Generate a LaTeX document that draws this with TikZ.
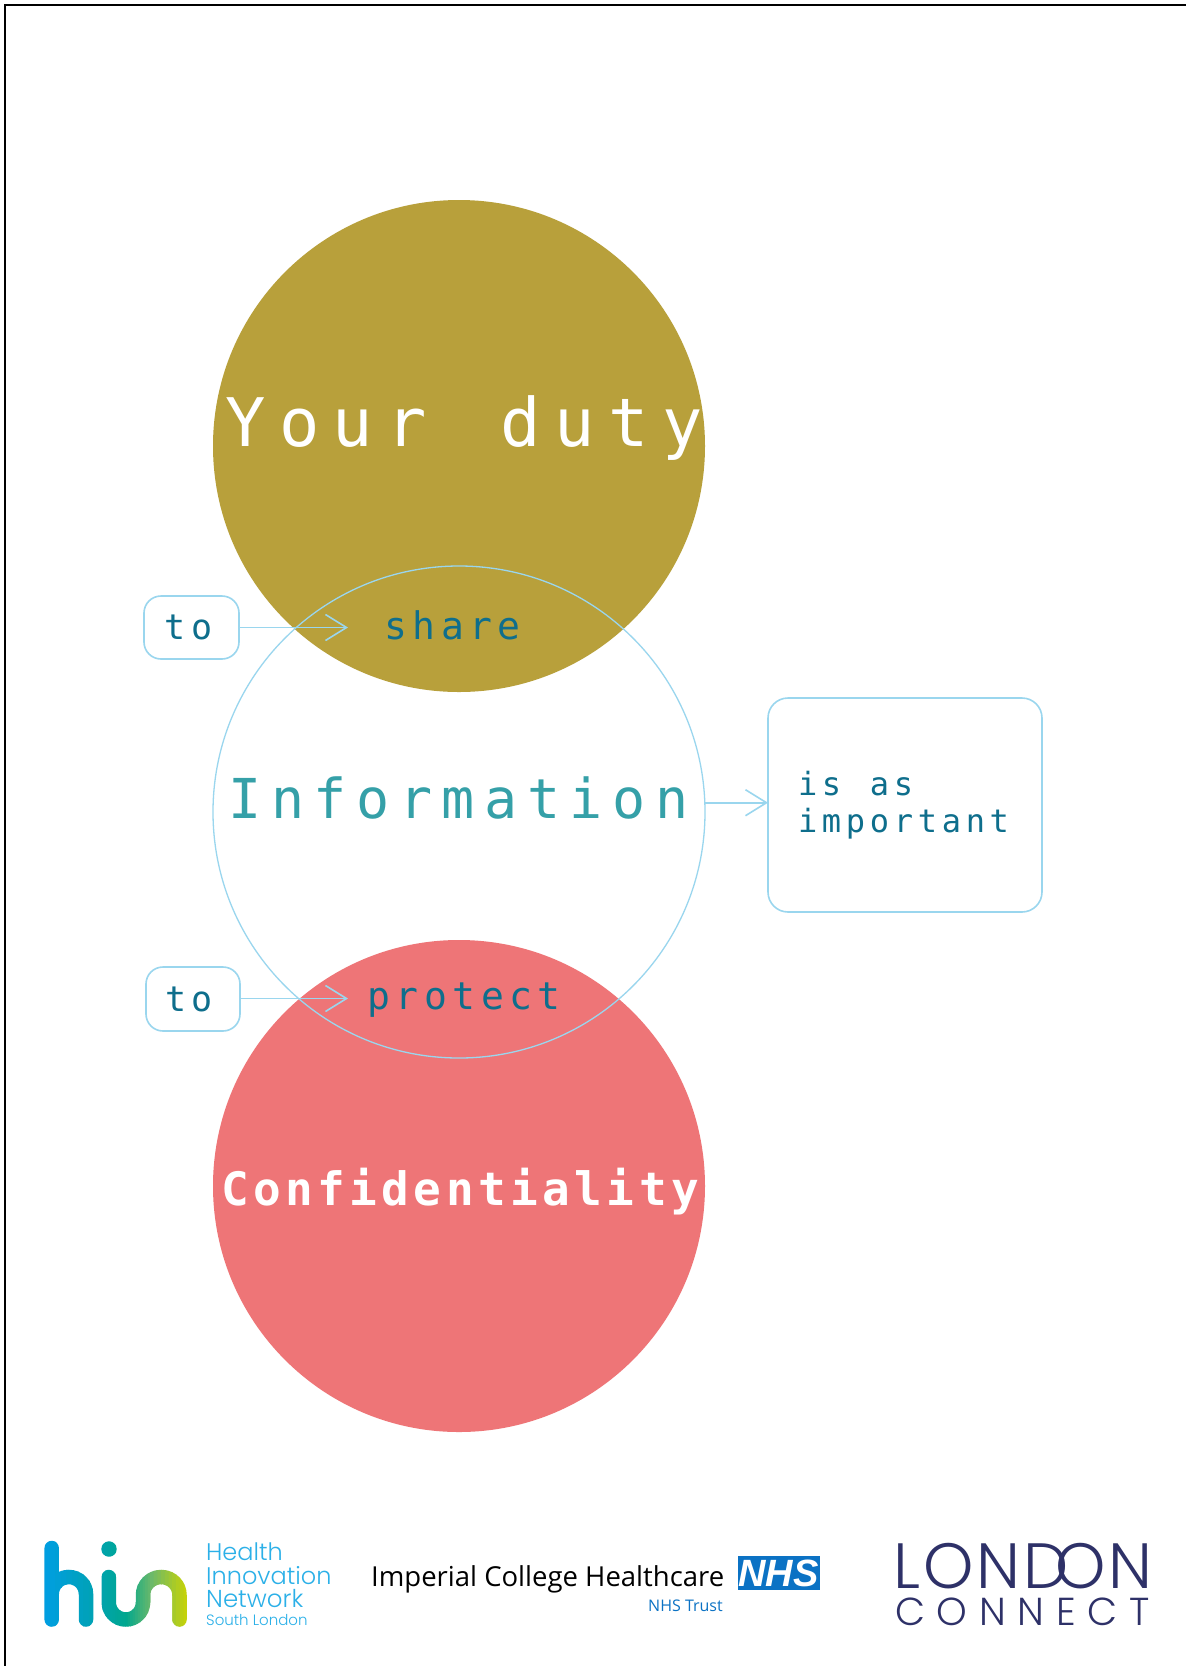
\documentclass[tikz,border=0pt]{standalone}
\usepackage{fontspec}
\usetikzlibrary{arrows.meta,shapes.geometric}
\newfontfamily\monoDuty[LetterSpace=20]{DejaVu Sans Mono}
\newfontfamily\monoInfo[LetterSpace=17.4]{DejaVu Sans Mono}
\newfontfamily\monoConf[LetterSpace=9.7]{DejaVu Sans Mono Bold}
\newfontfamily\monoSmall[LetterSpace=14.7]{DejaVu Sans Mono}
\newfontfamily\opn{Open Sans}
\newfontfamily\arialbi{Liberation Sans}
\newfontfamily\popl{Poppins Light}
\newfontfamily\popA[LetterSpace=4.9]{Poppins Light}
\newfontfamily\popS[LetterSpace=30]{Poppins Light}
\newcommand{\fsz}[1]{\fontsize{#1}{#1}\selectfont}
\definecolor{gold}{HTML}{B8A03B}
\definecolor{coral}{HTML}{EE7577}
\definecolor{linkblue}{HTML}{9AD6EE}
\definecolor{inktext}{HTML}{0E6E8C}
\definecolor{infotext}{HTML}{35A0A8}
\definecolor{hintext}{HTML}{2BB0E8}
\definecolor{nhsblue}{HTML}{0B72C4}
\definecolor{lcnavy}{HTML}{2E3168}
\definecolor{g1}{HTML}{009EE0}
\definecolor{g2}{HTML}{00A3AD}
\definecolor{g3}{HTML}{00A78E}
\definecolor{g4}{HTML}{6CB96A}
\definecolor{g5}{HTML}{CDD500}
\tikzset{
  disc/.style={circle,minimum size=492pt,inner sep=0pt,outer sep=0pt},
  link/.style={draw=linkblue,line width=1.6pt},
  linkbox/.style={draw=linkblue,line width=1.6pt,rounded corners=17pt,inner sep=0pt,outer sep=0pt,text=inktext},
  flow/.style={link,-{Straight Barb[length=21pt,width=26pt,line width=1.6pt]}},
  small/.style={inner sep=0pt,text=inktext,font=\monoSmall\fsz{38}},
  logotext/.style={inner sep=0pt,anchor=base west},
}
\begin{document}
\begin{tikzpicture}[x=1pt,y=-1pt]
\useasboundingbox (0,0) rectangle (1186,1666);
\fill[white] (0,0) rectangle (1186,1666);
\draw[black,line width=2pt] (5,1666) -- (5,4.5) -- (1186,4.5);
% discs
\node[disc,fill=gold] (duty) at (459,446) {};
\node[disc,fill=coral] (conf) at (459,1186) {};
\node[disc,draw=linkblue,line width=1.3pt] (info) at (459,812) {};
% main labels
\node[inner sep=0pt,text=white,anchor=base,font=\monoDuty\fsz{67}] (dutyT) at (464,446) {Your \hspace{20pt}duty};
\node[inner sep=0pt,text=infotext,anchor=base,font=\monoInfo\fsz{55}] (infoT) at (458.5,818.5) {Information};
\node[inner sep=0pt,text=white,anchor=base,font=\monoConf\fsz{46}] (confT) at (460,1205) {Confidentiality};
\node[small,anchor=base] (shareT) at (452.5,639) {share};
\node[small,anchor=base] (protT) at (464,1009) {protect};
% link boxes
\node[linkbox,minimum width=95pt,minimum height=63pt,font=\monoSmall\fsz{35}] (to1) at (191.5,627.5) {to\kern6pt};
\node[linkbox,minimum width=94pt,minimum height=64pt,font=\monoSmall\fsz{35}] (to2) at (193,999) {to\kern8pt};
\node[linkbox,rounded corners=20pt,minimum width=274pt,minimum height=214pt,align=left,text width=214pt,font=\monoSmall\fontsize{32}{37}\selectfont] (imp) at (905,805) {is \hspace{18pt}as\\important};
\coordinate (tipA) at (348,627.5);
\coordinate (tipB) at (348,998.5);
\coordinate (impIn) at (768,802.7);
\draw[flow] (to1.east) -- (tipA);
\draw[flow] (to2.east |- tipB) -- (tipB);
\draw[flow] (info.east |- impIn) -- (impIn);
% hin logo: stroke with horizontal gradient built from thin slices
\foreach \xa/\xb/\ca/\cb in {44/100/g1/g2,100/125/g2/g3,125/150/g3/g4,150/187/g4/g5}{
  \foreach \t in {0,10,...,90}{
    \begin{scope}
      \clip ({\xa+(\xb-\xa)*\t/100},1530) rectangle ({\xa+(\xb-\xa)*(\t+12)/100},1640);
      \draw[\cb!\t!\ca,line width=14.5pt,line cap=round]
        (51.7,1548) -- (51.7,1619.5)
        (51.7,1594) arc[start angle=180,end angle=0,x radius=17.15pt,y radius=17pt] -- (86,1619.5);
      \draw[\cb!\t!\ca,line width=14.5pt,line cap=round,line join=round]
        (108.8,1577) -- (108.8,1602.5)
        arc[start angle=180,end angle=360,x radius=17.1pt,y radius=17pt]
        -- (143,1595)
        arc[start angle=180,end angle=0,x radius=18.25pt,y radius=18pt]
        -- (179.5,1619.5);
      \fill[\cb!\t!\ca] (109,1549) circle[radius=7.7pt];
    \end{scope}
  }
}
\node[logotext,text=hintext,font=\popl\fsz{24}] (hinA) at (206,1560) {Health};
\node[logotext,text=hintext,font=\popl\fsz{24}] (hinB) at (206,1584) {Innovation};
\node[logotext,text=hintext,font=\popl\fsz{24.5}] (hinC) at (206,1607.7) {Network};
\node[logotext,text=hintext,font=\popl\fsz{15}] (hinD) at (206,1625) {South London};
% Imperial
\node[logotext,text=black,font=\opn\fsz{27.5}] (impA) at (371,1586) {Imperial College Healthcare};
\node[inner sep=0pt,outer sep=0pt,fill=nhsblue,minimum width=82pt,minimum height=33.5pt,text=white,font=\arialbi\bfseries\itshape\fsz{38}] (nhs) at (778.5,1573) {NHS};
\node[logotext,text=nhsblue,font=\opn\fsz{16}] (impB) at (648,1611.7) {NHS Trust};
% London Connect
\node[logotext,text=lcnavy,font=\popA\fsz{64}] (lcA) at (893,1588) {LOND\kern-14pt ON};
\node[logotext,text=lcnavy,font=\popS\fsz{39}] (lcB) at (895,1625.7) {CONNECT};
\end{tikzpicture}
\end{document}
